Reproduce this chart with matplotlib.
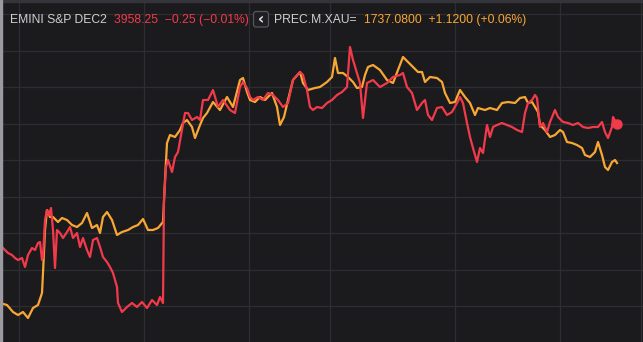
import matplotlib
matplotlib.use("Agg")
import matplotlib.pyplot as plt
from matplotlib.patches import FancyBboxPatch, Rectangle
import numpy as np

# ---- data (time index, level) ----
es_t = [0,2,5,8,12,15,18,22,25,28,32,35,38,40,42,43,45,47,49,51,53,55,57,60,63,67,70,73,77,80,83,87,90,93,97,100,
        103,107,110,113,117,118,122,127,132,137,142,147,152,157,160,163,164,166,168,172,175,178,182,185,188,192,197,200,
        203,208,213,218,223,230,235,240,243,247,250,253,258,263,268,273,278,283,288,293,300,303,307,310,313,317,322,327,
        332,337,342,347,350,353,357,360,363,367,373,380,387,393,400,403,407,412,417,422,425,428,432,437,442,447,452,457,
        460,463,467,470,473,477,480,483,487,490,493,497,502,507,512,517,522,525,528,532,535,537,540,543,547,550,555,558,
        563,568,573,578,583,588,593,598,602,605,608,612,613,617]
es_v = [85,95,92,89,87,84,82,84,75,87,94,92,99,100,82,85,122,132,127,134,112,74,112,109,104,110,115,104,109,95,104,92,85,102,104,95,
        85,80,75,69,55,39,30,35,39,35,40,34,42,37,45,39,142,175,182,170,185,190,212,229,229,222,225,222,
        242,242,252,235,242,232,229,255,260,254,245,242,245,242,249,247,242,235,239,262,270,267,252,235,232,235,234,239,
        242,247,250,255,295,282,269,259,224,259,262,255,259,265,267,269,255,249,232,239,242,227,222,234,235,227,230,239,
        245,239,219,205,194,180,194,189,217,205,215,217,219,217,215,212,210,229,239,242,247,244,215,219,210,220,232,225,
        220,219,217,219,215,214,215,215,220,210,204,215,225,218]

xau_t = [0,7,13,18,23,28,33,38,42,43,45,47,50,53,58,62,67,72,77,82,87,92,97,100,103,107,112,117,122,128,133,138,143,148,153,158,
         163,165,167,170,175,180,183,187,192,195,200,203,207,213,220,227,233,240,243,247,250,255,260,265,272,277,280,284,288,
         293,300,303,308,315,320,327,332,335,338,343,348,353,357,362,365,368,373,380,387,393,400,403,408,413,418,422,425,430,
         437,442,445,450,455,460,465,470,475,478,485,490,497,502,508,515,520,525,528,532,535,538,540,545,550,555,560,563,567,
         572,577,582,585,590,595,598,602,605,608,612,615,617]
xau_v = [39,37,30,27,30,24,34,37,49,69,112,132,125,125,120,124,122,117,115,119,129,114,117,109,125,130,122,107,110,112,115,117,123,112,112,114,
         120,162,199,207,205,212,219,222,215,204,217,224,229,240,232,245,235,262,264,250,242,240,245,242,249,235,217,225,242,
         262,270,259,252,254,255,260,265,284,269,269,265,260,254,255,267,275,277,272,262,259,277,285,280,275,270,270,260,265,
         264,260,249,239,240,252,245,239,227,234,232,234,232,239,240,239,244,245,239,240,235,230,217,212,205,207,212,210,200,
         199,197,194,187,185,190,200,187,175,172,180,182,179]

es_label = "EMINI S&P DEC2"
es_quote = "3958.25  \u22120.25 (\u22120.01%)"
xau_label = "PREC.M.XAU="
xau_quote = "1737.0800  +1.1200 (+0.06%)"

grid_x = [19, 144, 249, 330, 455, 560, 641]
grid_y = [36, 72, 109, 145, 182, 218, 255, 291, 328]

BG = "#1b1b1e"
GRID = "#2d2d33"
RED = "#f23a4b"
ORANGE = "#f8a735"
LABEL = "#cfcfd2"

W, H = 643, 342
fig = plt.figure(figsize=(W / 100, H / 100), dpi=100, facecolor=BG)
ax = fig.add_axes([0, 0, 1, 1])
ax.set_facecolor(BG)
ax.set_xlim(0, W)
ax.set_ylim(0, H)
for s in ax.spines.values():
    s.set_visible(False)
ax.set_xticks([])
ax.set_yticks([])

for gx in grid_x:
    ax.axvline(gx, color=GRID, lw=0.9, zorder=1)
for gy in grid_y:
    ax.axhline(gy, color=GRID, lw=0.9, zorder=1)

ax.plot(xau_t, xau_v, color=ORANGE, lw=1.6, zorder=3, solid_joinstyle="round")
ax.plot(es_t, es_v, color=RED, lw=1.6, zorder=4, solid_joinstyle="round")
ax.plot([es_t[-1]], [es_v[-1]], "o", color=RED, ms=6.5, zorder=5)

# top border and left edge strip
ax.add_patch(Rectangle((0, H - 1.5), W, 1.5, color="#34343a", zorder=2))
ax.add_patch(Rectangle((0, 0), 1.6, H, color="#9a9aa0", zorder=6))

# header texts
font = "Liberation Sans"
fs = 8.7
by = 1 - 22.7 / H
fig.text(10 / W, by, es_label, color=LABEL, fontsize=fs, family=font, va="baseline", ha="left")
fig.text(114 / W, by, es_quote, color=RED, fontsize=fs, family=font, va="baseline", ha="left")
fig.text(274 / W, by, xau_label, color=LABEL, fontsize=fs, family=font, va="baseline", ha="left")
fig.text(364 / W, by, xau_quote, color=ORANGE, fontsize=fs, family=font, va="baseline", ha="left")

# chevron button
btn = FancyBboxPatch((253.5, H - 27), 15, 15.5, boxstyle="round,pad=0,rounding_size=2.5",
                     fc="#1f1f23", ec="#55555c", lw=0.9, zorder=7)
ax.add_patch(btn)
ax.text(261, H - 19.3, "\u2039", color="#e6e6e6", fontsize=11, family="DejaVu Sans",
        ha="center", va="center", zorder=8, fontweight="bold")

fig.savefig("out.png", dpi=100, facecolor=BG)
